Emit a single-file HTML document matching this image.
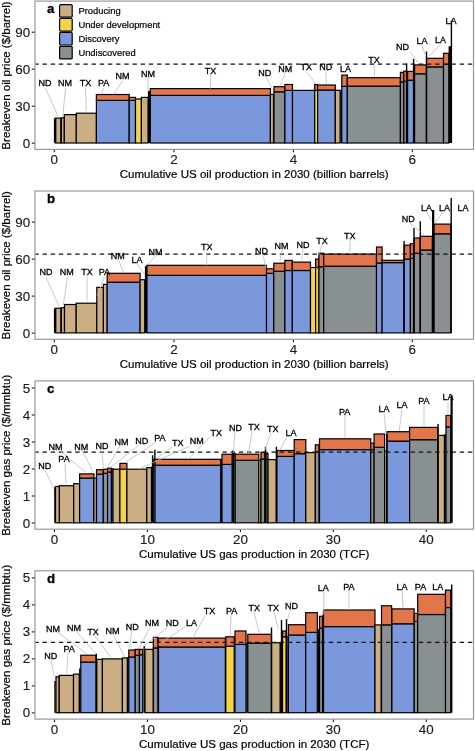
<!DOCTYPE html>
<html><head><meta charset="utf-8"><style>
html,body{margin:0;padding:0;background:#fff;width:475px;height:751px;overflow:hidden}
svg{position:absolute;left:0;top:0;font-family:"Liberation Sans", sans-serif;will-change:transform}
</style></head><body>
<svg width="475" height="751" viewBox="0 0 475 751">
<g transform="translate(0,0)">
<line x1="31.8" y1="143.2" x2="35" y2="143.2" stroke="#111" stroke-width="1.05"/>
<text x="30.2" y="147.75" text-anchor="end" font-size="13.4" fill="#1a1a1a" stroke="#1a1a1a" stroke-width="0.15">0</text>
<line x1="31.8" y1="106.2" x2="35" y2="106.2" stroke="#111" stroke-width="1.05"/>
<text x="30.2" y="110.75" text-anchor="end" font-size="13.4" fill="#1a1a1a" stroke="#1a1a1a" stroke-width="0.15">30</text>
<line x1="31.8" y1="69.2" x2="35" y2="69.2" stroke="#111" stroke-width="1.05"/>
<text x="30.2" y="73.75" text-anchor="end" font-size="13.4" fill="#1a1a1a" stroke="#1a1a1a" stroke-width="0.15">60</text>
<line x1="31.8" y1="32.2" x2="35" y2="32.2" stroke="#111" stroke-width="1.05"/>
<text x="30.2" y="36.75" text-anchor="end" font-size="13.4" fill="#1a1a1a" stroke="#1a1a1a" stroke-width="0.15">90</text>
<line x1="54.3" y1="149.5" x2="54.3" y2="152.3" stroke="#111" stroke-width="1.05"/>
<text x="54.3" y="164.3" text-anchor="middle" font-size="13.4" fill="#1a1a1a" stroke="#1a1a1a" stroke-width="0.15">0</text>
<line x1="174.0" y1="149.5" x2="174.0" y2="152.3" stroke="#111" stroke-width="1.05"/>
<text x="174.0" y="164.3" text-anchor="middle" font-size="13.4" fill="#1a1a1a" stroke="#1a1a1a" stroke-width="0.15">2</text>
<line x1="293.4" y1="149.5" x2="293.4" y2="152.3" stroke="#111" stroke-width="1.05"/>
<text x="293.4" y="164.3" text-anchor="middle" font-size="13.4" fill="#1a1a1a" stroke="#1a1a1a" stroke-width="0.15">4</text>
<line x1="412.3" y1="149.5" x2="412.3" y2="152.3" stroke="#111" stroke-width="1.05"/>
<text x="412.3" y="164.3" text-anchor="middle" font-size="13.4" fill="#1a1a1a" stroke="#1a1a1a" stroke-width="0.15">6</text>
<text x="254.2" y="178" text-anchor="middle" font-size="11.55" fill="#000" stroke="#000" stroke-width="0.2">Cumulative US oil production in 2030 (billion barrels)</text>
<text transform="translate(10.2,75.5) rotate(-90)" text-anchor="middle" font-size="11.55" fill="#000" stroke="#000" stroke-width="0.2">Breakeven oil price ($/barrel)</text>
<rect x="55.5" y="118.1" width="5.5" height="24.900000000000006" fill="#CBAE84" stroke="#000" stroke-width="1.2"/>
<rect x="61.3" y="117.8" width="3.0" height="25.200000000000003" fill="#CBAE84" stroke="#000" stroke-width="1.2"/>
<rect x="64.3" y="114.6" width="12.0" height="28.400000000000006" fill="#CBAE84" stroke="#000" stroke-width="1.2"/>
<rect x="76.3" y="113.2" width="20.10000000000001" height="29.799999999999997" fill="#CBAE84" stroke="#000" stroke-width="1.2"/>
<rect x="96.4" y="100.4" width="32.79999999999998" height="42.599999999999994" fill="#7B98DC" stroke="#000" stroke-width="1.2"/>
<rect x="96.4" y="94.5" width="32.79999999999998" height="5.900000000000006" fill="#E2754A" stroke="#000" stroke-width="1.2"/>
<rect x="129.2" y="100.4" width="6.300000000000011" height="42.599999999999994" fill="#7B98DC" stroke="#000" stroke-width="1.2"/>
<rect x="129.2" y="97.4" width="6.300000000000011" height="3.0" fill="#E2754A" stroke="#000" stroke-width="1.2"/>
<rect x="135.5" y="99.0" width="5.900000000000006" height="44.0" fill="#F3D34A" stroke="#000" stroke-width="1.2"/>
<rect x="141.4" y="97.4" width="6.699999999999989" height="45.599999999999994" fill="#CBAE84" stroke="#000" stroke-width="1.2"/>
<rect x="150.3" y="95.4" width="120.09999999999997" height="47.599999999999994" fill="#7B98DC" stroke="#000" stroke-width="1.2"/>
<rect x="150.3" y="88.6" width="120.09999999999997" height="6.800000000000011" fill="#E2754A" stroke="#000" stroke-width="1.2"/>
<rect x="270.4" y="94.4" width="3.1000000000000227" height="48.599999999999994" fill="#CBAE84" stroke="#000" stroke-width="1.2"/>
<rect x="274.0" y="91.8" width="10.899999999999977" height="51.2" fill="#899091" stroke="#000" stroke-width="1.2"/>
<rect x="274.0" y="86.7" width="10.899999999999977" height="5.099999999999994" fill="#E2754A" stroke="#000" stroke-width="1.2"/>
<rect x="284.9" y="90.4" width="7.600000000000023" height="52.599999999999994" fill="#7B98DC" stroke="#000" stroke-width="1.2"/>
<rect x="284.9" y="84.5" width="7.600000000000023" height="5.900000000000006" fill="#E2754A" stroke="#000" stroke-width="1.2"/>
<rect x="292.5" y="90.4" width="22.19999999999999" height="52.599999999999994" fill="#7B98DC" stroke="#000" stroke-width="1.2"/>
<rect x="314.7" y="90.4" width="2.900000000000034" height="52.599999999999994" fill="#F3D34A" stroke="#000" stroke-width="1.2"/>
<rect x="314.7" y="84.5" width="2.900000000000034" height="5.900000000000006" fill="#E2754A" stroke="#000" stroke-width="1.2"/>
<rect x="317.6" y="90.0" width="17.69999999999999" height="53.0" fill="#7B98DC" stroke="#000" stroke-width="1.2"/>
<rect x="317.6" y="85.0" width="17.69999999999999" height="5.0" fill="#E2754A" stroke="#000" stroke-width="1.2"/>
<rect x="335.3" y="90.3" width="4.800000000000011" height="52.7" fill="#CBAE84" stroke="#000" stroke-width="1.2"/>
<rect x="341.8" y="86.4" width="5.5" height="56.599999999999994" fill="#7B98DC" stroke="#000" stroke-width="1.2"/>
<rect x="341.8" y="75.1" width="5.5" height="11.300000000000011" fill="#E2754A" stroke="#000" stroke-width="1.2"/>
<rect x="347.3" y="86.1" width="53.099999999999966" height="56.900000000000006" fill="#899091" stroke="#000" stroke-width="1.2"/>
<rect x="347.3" y="77.7" width="53.099999999999966" height="8.399999999999991" fill="#E2754A" stroke="#000" stroke-width="1.2"/>
<rect x="400.4" y="82.0" width="3.400000000000034" height="61.0" fill="#899091" stroke="#000" stroke-width="1.2"/>
<rect x="400.4" y="72.4" width="3.400000000000034" height="9.599999999999994" fill="#E2754A" stroke="#000" stroke-width="1.2"/>
<rect x="403.8" y="81.4" width="2.8000000000000114" height="61.599999999999994" fill="#899091" stroke="#000" stroke-width="1.2"/>
<rect x="403.8" y="71.2" width="2.8000000000000114" height="10.200000000000003" fill="#E2754A" stroke="#000" stroke-width="1.2"/>
<rect x="407.6" y="80.2" width="6.0" height="62.8" fill="#7B98DC" stroke="#000" stroke-width="1.2"/>
<rect x="407.6" y="71.4" width="6.0" height="8.799999999999997" fill="#E2754A" stroke="#000" stroke-width="1.2"/>
<rect x="414.6" y="73.8" width="11.899999999999977" height="69.2" fill="#899091" stroke="#000" stroke-width="1.2"/>
<rect x="414.6" y="64.9" width="11.899999999999977" height="8.899999999999991" fill="#E2754A" stroke="#000" stroke-width="1.2"/>
<rect x="426.5" y="66.9" width="17.0" height="76.1" fill="#899091" stroke="#000" stroke-width="1.2"/>
<rect x="426.5" y="58.3" width="17.0" height="8.600000000000009" fill="#E2754A" stroke="#000" stroke-width="1.2"/>
<rect x="443.5" y="64.3" width="5.399999999999977" height="78.7" fill="#899091" stroke="#000" stroke-width="1.2"/>
<rect x="443.5" y="53.3" width="5.399999999999977" height="11.0" fill="#E2754A" stroke="#000" stroke-width="1.2"/>
<line x1="54.6" y1="118.2" x2="54.6" y2="143.0" stroke="#000" stroke-width="1.4"/>
<line x1="55.6" y1="118.2" x2="55.6" y2="143.0" stroke="#000" stroke-width="1.4"/>
<line x1="61.2" y1="118" x2="61.2" y2="143.0" stroke="#000" stroke-width="1.4"/>
<line x1="148.6" y1="91" x2="148.6" y2="143.0" stroke="#000" stroke-width="1.4"/>
<line x1="149.6" y1="91" x2="149.6" y2="143.0" stroke="#000" stroke-width="1.4"/>
<line x1="341" y1="90" x2="341" y2="143.0" stroke="#000" stroke-width="1.4"/>
<line x1="406.6" y1="63.4" x2="406.6" y2="143.0" stroke="#000" stroke-width="1.4"/>
<line x1="413.6" y1="58.9" x2="413.6" y2="143.0" stroke="#000" stroke-width="1.4"/>
<line x1="426.5" y1="51.5" x2="426.5" y2="143.0" stroke="#000" stroke-width="1.4"/>
<line x1="449.3" y1="46.3" x2="449.3" y2="143.0" stroke="#000" stroke-width="1.4"/>
<line x1="450.5" y1="46.3" x2="450.5" y2="143.0" stroke="#000" stroke-width="1.4"/>
<line x1="451.4" y1="20.5" x2="451.4" y2="143.0" stroke="#000" stroke-width="1.4"/>
<line x1="35.5" y1="64.2" x2="473" y2="64.2" stroke="#111" stroke-width="1.2" stroke-dasharray="4.4,3.78" stroke-dashoffset="1.18"/>
<line x1="45.4" y1="88" x2="57.7" y2="115.6" stroke="#bbb" stroke-width="0.8"/>
<text x="45.1" y="85.5" text-anchor="middle" font-size="9" fill="#000" stroke="#000" stroke-width="0.3">ND</text>
<line x1="65.6" y1="88" x2="62.8" y2="116" stroke="#bbb" stroke-width="0.8"/>
<text x="64.9" y="85.5" text-anchor="middle" font-size="9" fill="#000" stroke="#000" stroke-width="0.3">NM</text>
<line x1="85.5" y1="88" x2="86.3" y2="110.5" stroke="#bbb" stroke-width="0.8"/>
<text x="85.5" y="85.5" text-anchor="middle" font-size="9" fill="#000" stroke="#000" stroke-width="0.3">TX</text>
<line x1="104" y1="88" x2="100.7" y2="94.5" stroke="#bbb" stroke-width="0.8"/>
<text x="103.7" y="85.5" text-anchor="middle" font-size="9" fill="#000" stroke="#000" stroke-width="0.3">PA</text>
<line x1="122.8" y1="80.5" x2="113.6" y2="94.5" stroke="#bbb" stroke-width="0.8"/>
<text x="122.5" y="79.2" text-anchor="middle" font-size="9" fill="#000" stroke="#000" stroke-width="0.3">NM</text>
<line x1="148" y1="78.5" x2="148" y2="91" stroke="#bbb" stroke-width="0.8"/>
<text x="148.1" y="77.0" text-anchor="middle" font-size="9" fill="#000" stroke="#000" stroke-width="0.3">NM</text>
<line x1="210.5" y1="75" x2="210.5" y2="88.6" stroke="#bbb" stroke-width="0.8"/>
<text x="210.5" y="73.5" text-anchor="middle" font-size="9" fill="#000" stroke="#000" stroke-width="0.3">TX</text>
<line x1="266" y1="77.5" x2="272.6" y2="89.6" stroke="#bbb" stroke-width="0.8"/>
<text x="264.8" y="76.0" text-anchor="middle" font-size="9" fill="#000" stroke="#000" stroke-width="0.3">ND</text>
<line x1="285.5" y1="73" x2="279.9" y2="86.2" stroke="#bbb" stroke-width="0.8"/>
<text x="285.3" y="71.8" text-anchor="middle" font-size="9" fill="#000" stroke="#000" stroke-width="0.3">NM</text>
<line x1="306.3" y1="71.5" x2="315.6" y2="83.7" stroke="#bbb" stroke-width="0.8"/>
<text x="306.3" y="70.1" text-anchor="middle" font-size="9" fill="#000" stroke="#000" stroke-width="0.3">TX</text>
<line x1="325.7" y1="71.5" x2="326.5" y2="83.7" stroke="#bbb" stroke-width="0.8"/>
<text x="325.7" y="70.1" text-anchor="middle" font-size="9" fill="#000" stroke="#000" stroke-width="0.3">ND</text>
<text x="345.5" y="72.3" text-anchor="middle" font-size="9" fill="#000" stroke="#000" stroke-width="0.3">LA</text>
<line x1="374" y1="64.5" x2="374.5" y2="76.3" stroke="#bbb" stroke-width="0.8"/>
<text x="374.1" y="62.8" text-anchor="middle" font-size="9" fill="#000" stroke="#000" stroke-width="0.3">TX</text>
<line x1="410" y1="51.5" x2="419" y2="63.9" stroke="#bbb" stroke-width="0.8"/>
<text x="402.4" y="50.0" text-anchor="middle" font-size="9" fill="#000" stroke="#000" stroke-width="0.3">ND</text>
<line x1="422" y1="45.5" x2="425.3" y2="54.9" stroke="#bbb" stroke-width="0.8"/>
<text x="421.9" y="44.2" text-anchor="middle" font-size="9" fill="#000" stroke="#000" stroke-width="0.3">LA</text>
<line x1="440" y1="44.9" x2="429.3" y2="55.9" stroke="#bbb" stroke-width="0.8"/>
<text x="440.5" y="43.2" text-anchor="middle" font-size="9" fill="#000" stroke="#000" stroke-width="0.3">LA</text>
<text x="450.9" y="23.7" text-anchor="middle" font-size="9" fill="#000" stroke="#000" stroke-width="0.3">LA</text>
<rect x="35" y="1.1" width="438.5" height="148.3" fill="none" stroke="#949494" stroke-width="1.15"/>
<text x="46.9" y="13.4" font-size="13.3" font-weight="bold" fill="#000" stroke="#000" stroke-width="0.3">a</text>
</g>
<rect x="59.6" y="4.6" width="12.6" height="12.6" rx="1" fill="#CBAE84" stroke="#000" stroke-width="1.2"/>
<text x="78.4" y="14.4" font-size="9.4" fill="#000" stroke="#000" stroke-width="0.2">Producing</text>
<rect x="59.6" y="18.5" width="12.6" height="12.6" rx="1" fill="#F3D34A" stroke="#000" stroke-width="1.2"/>
<text x="78.4" y="28.3" font-size="9.4" fill="#000" stroke="#000" stroke-width="0.2">Under development</text>
<rect x="59.6" y="32.4" width="12.6" height="12.6" rx="1" fill="#7B98DC" stroke="#000" stroke-width="1.2"/>
<text x="78.4" y="42.2" font-size="9.4" fill="#000" stroke="#000" stroke-width="0.2">Discovery</text>
<rect x="59.6" y="46.300000000000004" width="12.6" height="12.6" rx="1" fill="#899091" stroke="#000" stroke-width="1.2"/>
<text x="78.4" y="56.10000000000001" font-size="9.4" fill="#000" stroke="#000" stroke-width="0.2">Undiscovered</text>
<g transform="translate(0,189.9)">
<line x1="31.8" y1="143.2" x2="35" y2="143.2" stroke="#111" stroke-width="1.05"/>
<text x="30.2" y="147.75" text-anchor="end" font-size="13.4" fill="#1a1a1a" stroke="#1a1a1a" stroke-width="0.15">0</text>
<line x1="31.8" y1="106.2" x2="35" y2="106.2" stroke="#111" stroke-width="1.05"/>
<text x="30.2" y="110.75" text-anchor="end" font-size="13.4" fill="#1a1a1a" stroke="#1a1a1a" stroke-width="0.15">30</text>
<line x1="31.8" y1="69.2" x2="35" y2="69.2" stroke="#111" stroke-width="1.05"/>
<text x="30.2" y="73.75" text-anchor="end" font-size="13.4" fill="#1a1a1a" stroke="#1a1a1a" stroke-width="0.15">60</text>
<line x1="31.8" y1="32.2" x2="35" y2="32.2" stroke="#111" stroke-width="1.05"/>
<text x="30.2" y="36.75" text-anchor="end" font-size="13.4" fill="#1a1a1a" stroke="#1a1a1a" stroke-width="0.15">90</text>
<line x1="54.3" y1="149.5" x2="54.3" y2="152.3" stroke="#111" stroke-width="1.05"/>
<text x="54.3" y="164.3" text-anchor="middle" font-size="13.4" fill="#1a1a1a" stroke="#1a1a1a" stroke-width="0.15">0</text>
<line x1="174.0" y1="149.5" x2="174.0" y2="152.3" stroke="#111" stroke-width="1.05"/>
<text x="174.0" y="164.3" text-anchor="middle" font-size="13.4" fill="#1a1a1a" stroke="#1a1a1a" stroke-width="0.15">2</text>
<line x1="293.4" y1="149.5" x2="293.4" y2="152.3" stroke="#111" stroke-width="1.05"/>
<text x="293.4" y="164.3" text-anchor="middle" font-size="13.4" fill="#1a1a1a" stroke="#1a1a1a" stroke-width="0.15">4</text>
<line x1="412.3" y1="149.5" x2="412.3" y2="152.3" stroke="#111" stroke-width="1.05"/>
<text x="412.3" y="164.3" text-anchor="middle" font-size="13.4" fill="#1a1a1a" stroke="#1a1a1a" stroke-width="0.15">6</text>
<text x="254.2" y="178" text-anchor="middle" font-size="11.55" fill="#000" stroke="#000" stroke-width="0.2">Cumulative US oil production in 2030 (billion barrels)</text>
<text transform="translate(10.2,75.5) rotate(-90)" text-anchor="middle" font-size="11.55" fill="#000" stroke="#000" stroke-width="0.2">Breakeven oil price ($/barrel)</text>
<rect x="55.5" y="118.3" width="5.600000000000001" height="24.700000000000003" fill="#CBAE84" stroke="#000" stroke-width="1.2"/>
<rect x="61.3" y="117.8" width="3.200000000000003" height="25.200000000000003" fill="#CBAE84" stroke="#000" stroke-width="1.2"/>
<rect x="64.5" y="114.6" width="11.700000000000003" height="28.400000000000006" fill="#CBAE84" stroke="#000" stroke-width="1.2"/>
<rect x="76.2" y="113.3" width="20.599999999999994" height="29.700000000000003" fill="#CBAE84" stroke="#000" stroke-width="1.2"/>
<rect x="96.8" y="97.5" width="6.6000000000000085" height="45.5" fill="#CBAE84" stroke="#000" stroke-width="1.2"/>
<rect x="103.4" y="94.5" width="3.799999999999997" height="48.5" fill="#CBAE84" stroke="#000" stroke-width="1.2"/>
<rect x="107.2" y="92.3" width="32.89999999999999" height="50.7" fill="#7B98DC" stroke="#000" stroke-width="1.2"/>
<rect x="107.2" y="83.4" width="32.89999999999999" height="8.899999999999991" fill="#E2754A" stroke="#000" stroke-width="1.2"/>
<rect x="140.1" y="89.8" width="4.599999999999994" height="53.2" fill="#CBAE84" stroke="#000" stroke-width="1.2"/>
<rect x="146.9" y="85.4" width="119.6" height="57.599999999999994" fill="#7B98DC" stroke="#000" stroke-width="1.2"/>
<rect x="146.9" y="75.4" width="119.6" height="10.0" fill="#E2754A" stroke="#000" stroke-width="1.2"/>
<rect x="266.5" y="83.4" width="7.300000000000011" height="59.599999999999994" fill="#7B98DC" stroke="#000" stroke-width="1.2"/>
<rect x="266.5" y="78.9" width="7.300000000000011" height="4.5" fill="#E2754A" stroke="#000" stroke-width="1.2"/>
<rect x="273.8" y="81.4" width="11.099999999999966" height="61.599999999999994" fill="#899091" stroke="#000" stroke-width="1.2"/>
<rect x="273.8" y="73.3" width="11.099999999999966" height="8.100000000000009" fill="#E2754A" stroke="#000" stroke-width="1.2"/>
<rect x="284.9" y="80.6" width="7.400000000000034" height="62.400000000000006" fill="#7B98DC" stroke="#000" stroke-width="1.2"/>
<rect x="284.9" y="70.5" width="7.400000000000034" height="10.099999999999994" fill="#E2754A" stroke="#000" stroke-width="1.2"/>
<rect x="292.3" y="80.6" width="18.19999999999999" height="62.400000000000006" fill="#7B98DC" stroke="#000" stroke-width="1.2"/>
<rect x="292.3" y="72.2" width="18.19999999999999" height="8.399999999999991" fill="#E2754A" stroke="#000" stroke-width="1.2"/>
<rect x="310.5" y="77.6" width="5.100000000000023" height="65.4" fill="#F3D34A" stroke="#000" stroke-width="1.2"/>
<rect x="315.6" y="77.6" width="3.2999999999999545" height="65.4" fill="#F3D34A" stroke="#000" stroke-width="1.2"/>
<rect x="315.6" y="69.2" width="3.2999999999999545" height="8.399999999999991" fill="#E2754A" stroke="#000" stroke-width="1.2"/>
<rect x="318.9" y="76.9" width="4.800000000000011" height="66.1" fill="#899091" stroke="#000" stroke-width="1.2"/>
<rect x="318.9" y="63.3" width="4.800000000000011" height="13.600000000000009" fill="#E2754A" stroke="#000" stroke-width="1.2"/>
<rect x="323.7" y="76.3" width="52.80000000000001" height="66.7" fill="#899091" stroke="#000" stroke-width="1.2"/>
<rect x="323.7" y="64.2" width="52.80000000000001" height="12.099999999999994" fill="#E2754A" stroke="#000" stroke-width="1.2"/>
<rect x="376.5" y="73.1" width="5.600000000000023" height="69.9" fill="#7B98DC" stroke="#000" stroke-width="1.2"/>
<rect x="376.5" y="57.1" width="5.600000000000023" height="15.999999999999993" fill="#E2754A" stroke="#000" stroke-width="1.2"/>
<rect x="382.1" y="72.7" width="22.0" height="70.3" fill="#7B98DC" stroke="#000" stroke-width="1.2"/>
<rect x="382.1" y="70.4" width="22.0" height="2.299999999999997" fill="#E2754A" stroke="#000" stroke-width="1.2"/>
<rect x="404.1" y="69.2" width="6.2999999999999545" height="73.8" fill="#7B98DC" stroke="#000" stroke-width="1.2"/>
<rect x="404.1" y="55.3" width="6.2999999999999545" height="13.900000000000006" fill="#E2754A" stroke="#000" stroke-width="1.2"/>
<rect x="410.4" y="68.5" width="3.1000000000000227" height="74.5" fill="#899091" stroke="#000" stroke-width="1.2"/>
<rect x="410.4" y="53.8" width="3.1000000000000227" height="14.700000000000003" fill="#E2754A" stroke="#000" stroke-width="1.2"/>
<rect x="414" y="63.3" width="6.300000000000011" height="79.7" fill="#899091" stroke="#000" stroke-width="1.2"/>
<rect x="414" y="48.1" width="6.300000000000011" height="15.199999999999996" fill="#E2754A" stroke="#000" stroke-width="1.2"/>
<rect x="420.3" y="60.1" width="12.0" height="82.9" fill="#899091" stroke="#000" stroke-width="1.2"/>
<rect x="420.3" y="46.4" width="12.0" height="13.700000000000003" fill="#E2754A" stroke="#000" stroke-width="1.2"/>
<rect x="434" y="43.9" width="16.80000000000001" height="99.1" fill="#899091" stroke="#000" stroke-width="1.2"/>
<rect x="434" y="34.2" width="16.80000000000001" height="9.699999999999996" fill="#E2754A" stroke="#000" stroke-width="1.2"/>
<line x1="54.6" y1="118.4" x2="54.6" y2="143.0" stroke="#000" stroke-width="1.4"/>
<line x1="55.6" y1="118.4" x2="55.6" y2="143.0" stroke="#000" stroke-width="1.4"/>
<line x1="61.2" y1="118.1" x2="61.2" y2="143.0" stroke="#000" stroke-width="1.4"/>
<line x1="145.6" y1="76.3" x2="145.6" y2="143.0" stroke="#000" stroke-width="1.4"/>
<line x1="146.4" y1="76.3" x2="146.4" y2="143.0" stroke="#000" stroke-width="1.4"/>
<line x1="404.1" y1="51.1" x2="404.1" y2="143.0" stroke="#000" stroke-width="1.4"/>
<line x1="414" y1="38.0" x2="414" y2="143.0" stroke="#000" stroke-width="1.4"/>
<line x1="420.3" y1="31.3" x2="420.3" y2="143.0" stroke="#000" stroke-width="1.4"/>
<line x1="432.7" y1="20.1" x2="432.7" y2="143.0" stroke="#000" stroke-width="1.4"/>
<line x1="433.6" y1="20.1" x2="433.6" y2="143.0" stroke="#000" stroke-width="1.4"/>
<line x1="451.2" y1="8.1" x2="451.2" y2="143.0" stroke="#000" stroke-width="1.4"/>
<line x1="35.5" y1="64.3" x2="473" y2="64.3" stroke="#111" stroke-width="1.2" stroke-dasharray="4.4,3.78" stroke-dashoffset="1.18"/>
<line x1="46" y1="87.1" x2="58.6" y2="115.8" stroke="#bbb" stroke-width="0.8"/>
<text x="45.9" y="85.4" text-anchor="middle" font-size="9" fill="#000" stroke="#000" stroke-width="0.3">ND</text>
<line x1="67.5" y1="87.1" x2="63.3" y2="115.1" stroke="#bbb" stroke-width="0.8"/>
<text x="66.7" y="85.4" text-anchor="middle" font-size="9" fill="#000" stroke="#000" stroke-width="0.3">NM</text>
<line x1="87" y1="87.1" x2="87" y2="110.7" stroke="#bbb" stroke-width="0.8"/>
<text x="86.9" y="85.4" text-anchor="middle" font-size="9" fill="#000" stroke="#000" stroke-width="0.3">TX</text>
<line x1="104.5" y1="87.1" x2="97.3" y2="105.7" stroke="#bbb" stroke-width="0.8"/>
<text x="104.3" y="85.5" text-anchor="middle" font-size="9" fill="#000" stroke="#000" stroke-width="0.3">PA</text>
<line x1="118" y1="69.1" x2="123.6" y2="83.1" stroke="#bbb" stroke-width="0.8"/>
<text x="117.7" y="68.7" text-anchor="middle" font-size="9" fill="#000" stroke="#000" stroke-width="0.3">NM</text>
<line x1="137.1" y1="74.1" x2="144.7" y2="84.7" stroke="#bbb" stroke-width="0.8"/>
<text x="137.1" y="72.9" text-anchor="middle" font-size="9" fill="#000" stroke="#000" stroke-width="0.3">LA</text>
<line x1="155.6" y1="66.1" x2="146.4" y2="75.5" stroke="#bbb" stroke-width="0.8"/>
<text x="155.6" y="65.0" text-anchor="middle" font-size="9" fill="#000" stroke="#000" stroke-width="0.3">NM</text>
<line x1="206.7" y1="62.1" x2="206.7" y2="75.5" stroke="#bbb" stroke-width="0.8"/>
<text x="206.7" y="60.6" text-anchor="middle" font-size="9" fill="#000" stroke="#000" stroke-width="0.3">TX</text>
<line x1="263" y1="65.1" x2="266.1" y2="78.1" stroke="#bbb" stroke-width="0.8"/>
<text x="261.6" y="64.1" text-anchor="middle" font-size="9" fill="#000" stroke="#000" stroke-width="0.3">ND</text>
<line x1="282" y1="60.1" x2="279.9" y2="70.5" stroke="#bbb" stroke-width="0.8"/>
<text x="281.6" y="58.7" text-anchor="middle" font-size="9" fill="#000" stroke="#000" stroke-width="0.3">NM</text>
<line x1="303" y1="59.1" x2="301.8" y2="70.5" stroke="#bbb" stroke-width="0.8"/>
<text x="302.9" y="57.8" text-anchor="middle" font-size="9" fill="#000" stroke="#000" stroke-width="0.3">ND</text>
<line x1="322" y1="55.1" x2="318.9" y2="64.6" stroke="#bbb" stroke-width="0.8"/>
<text x="322" y="53.9" text-anchor="middle" font-size="9" fill="#000" stroke="#000" stroke-width="0.3">TX</text>
<line x1="350" y1="50.1" x2="350" y2="64.1" stroke="#bbb" stroke-width="0.8"/>
<text x="349.8" y="49.2" text-anchor="middle" font-size="9" fill="#000" stroke="#000" stroke-width="0.3">TX</text>
<line x1="410" y1="33.1" x2="424.5" y2="45.4" stroke="#bbb" stroke-width="0.8"/>
<text x="408.3" y="31.8" text-anchor="middle" font-size="9" fill="#000" stroke="#000" stroke-width="0.3">ND</text>
<line x1="427" y1="22.1" x2="431.4" y2="30.6" stroke="#bbb" stroke-width="0.8"/>
<text x="426.6" y="20.7" text-anchor="middle" font-size="9" fill="#000" stroke="#000" stroke-width="0.3">LA</text>
<line x1="443" y1="22.1" x2="435" y2="32.7" stroke="#bbb" stroke-width="0.8"/>
<text x="444.5" y="20.7" text-anchor="middle" font-size="9" fill="#000" stroke="#000" stroke-width="0.3">LA</text>
<text x="463" y="20.7" text-anchor="middle" font-size="9" fill="#000" stroke="#000" stroke-width="0.3">LA</text>
<rect x="35" y="1.1" width="438.5" height="148.3" fill="none" stroke="#949494" stroke-width="1.15"/>
<text x="46.9" y="13.4" font-size="13.3" font-weight="bold" fill="#000" stroke="#000" stroke-width="0.3">b</text>
</g>
<g transform="translate(0,379.8)">
<line x1="31.8" y1="143.2" x2="35" y2="143.2" stroke="#111" stroke-width="1.05"/>
<text x="30.2" y="147.75" text-anchor="end" font-size="13.4" fill="#1a1a1a" stroke="#1a1a1a" stroke-width="0.15">0</text>
<line x1="31.8" y1="116.2" x2="35" y2="116.2" stroke="#111" stroke-width="1.05"/>
<text x="30.2" y="120.75" text-anchor="end" font-size="13.4" fill="#1a1a1a" stroke="#1a1a1a" stroke-width="0.15">1</text>
<line x1="31.8" y1="89.2" x2="35" y2="89.2" stroke="#111" stroke-width="1.05"/>
<text x="30.2" y="93.75" text-anchor="end" font-size="13.4" fill="#1a1a1a" stroke="#1a1a1a" stroke-width="0.15">2</text>
<line x1="31.8" y1="62.2" x2="35" y2="62.2" stroke="#111" stroke-width="1.05"/>
<text x="30.2" y="66.75" text-anchor="end" font-size="13.4" fill="#1a1a1a" stroke="#1a1a1a" stroke-width="0.15">3</text>
<line x1="31.8" y1="35.2" x2="35" y2="35.2" stroke="#111" stroke-width="1.05"/>
<text x="30.2" y="39.75" text-anchor="end" font-size="13.4" fill="#1a1a1a" stroke="#1a1a1a" stroke-width="0.15">4</text>
<line x1="31.8" y1="8.2" x2="35" y2="8.2" stroke="#111" stroke-width="1.05"/>
<text x="30.2" y="12.75" text-anchor="end" font-size="13.4" fill="#1a1a1a" stroke="#1a1a1a" stroke-width="0.15">5</text>
<line x1="54.4" y1="149.5" x2="54.4" y2="152.3" stroke="#111" stroke-width="1.05"/>
<text x="54.4" y="164.3" text-anchor="middle" font-size="13.4" fill="#1a1a1a" stroke="#1a1a1a" stroke-width="0.15">0</text>
<line x1="147.4" y1="149.5" x2="147.4" y2="152.3" stroke="#111" stroke-width="1.05"/>
<text x="147.4" y="164.3" text-anchor="middle" font-size="13.4" fill="#1a1a1a" stroke="#1a1a1a" stroke-width="0.15">10</text>
<line x1="240.4" y1="149.5" x2="240.4" y2="152.3" stroke="#111" stroke-width="1.05"/>
<text x="240.4" y="164.3" text-anchor="middle" font-size="13.4" fill="#1a1a1a" stroke="#1a1a1a" stroke-width="0.15">20</text>
<line x1="333.3" y1="149.5" x2="333.3" y2="152.3" stroke="#111" stroke-width="1.05"/>
<text x="333.3" y="164.3" text-anchor="middle" font-size="13.4" fill="#1a1a1a" stroke="#1a1a1a" stroke-width="0.15">30</text>
<line x1="426.3" y1="149.5" x2="426.3" y2="152.3" stroke="#111" stroke-width="1.05"/>
<text x="426.3" y="164.3" text-anchor="middle" font-size="13.4" fill="#1a1a1a" stroke="#1a1a1a" stroke-width="0.15">40</text>
<text x="254.2" y="178" text-anchor="middle" font-size="11.55" fill="#000" stroke="#000" stroke-width="0.2">Cumulative US gas production in 2030 (TCF)</text>
<text transform="translate(10.2,75.5) rotate(-90)" text-anchor="middle" font-size="11.55" fill="#000" stroke="#000" stroke-width="0.2">Breakeven gas price ($/mmbtu)</text>
<rect x="55.5" y="106.7" width="3.8999999999999986" height="36.3" fill="#CBAE84" stroke="#000" stroke-width="1.2"/>
<rect x="59.4" y="105.9" width="14.300000000000004" height="37.099999999999994" fill="#CBAE84" stroke="#000" stroke-width="1.2"/>
<rect x="73.7" y="103.9" width="5.8999999999999915" height="39.099999999999994" fill="#CBAE84" stroke="#000" stroke-width="1.2"/>
<rect x="79.6" y="98.3" width="14.300000000000011" height="44.7" fill="#7B98DC" stroke="#000" stroke-width="1.2"/>
<rect x="79.6" y="94.1" width="14.300000000000011" height="4.200000000000003" fill="#E2754A" stroke="#000" stroke-width="1.2"/>
<rect x="93.9" y="98.3" width="2.5999999999999943" height="44.7" fill="#CBAE84" stroke="#000" stroke-width="1.2"/>
<rect x="96.5" y="94.4" width="6.799999999999997" height="48.599999999999994" fill="#7B98DC" stroke="#000" stroke-width="1.2"/>
<rect x="96.5" y="89.9" width="6.799999999999997" height="4.5" fill="#E2754A" stroke="#000" stroke-width="1.2"/>
<rect x="103.3" y="93.5" width="4.299999999999997" height="49.5" fill="#899091" stroke="#000" stroke-width="1.2"/>
<rect x="103.3" y="89.4" width="4.299999999999997" height="4.099999999999994" fill="#E2754A" stroke="#000" stroke-width="1.2"/>
<rect x="107.6" y="92.2" width="3.8000000000000114" height="50.8" fill="#7B98DC" stroke="#000" stroke-width="1.2"/>
<rect x="107.6" y="88.4" width="3.8000000000000114" height="3.799999999999997" fill="#E2754A" stroke="#000" stroke-width="1.2"/>
<rect x="111.4" y="89.0" width="1.5999999999999943" height="54.0" fill="#7B98DC" stroke="#000" stroke-width="1.2"/>
<rect x="113" y="89.4" width="6.900000000000006" height="53.599999999999994" fill="#CBAE84" stroke="#000" stroke-width="1.2"/>
<rect x="119.9" y="89.4" width="7.0" height="53.599999999999994" fill="#F3D34A" stroke="#000" stroke-width="1.2"/>
<rect x="119.9" y="83.6" width="7.0" height="5.800000000000011" fill="#E2754A" stroke="#000" stroke-width="1.2"/>
<rect x="126.9" y="89.4" width="19.900000000000006" height="53.599999999999994" fill="#CBAE84" stroke="#000" stroke-width="1.2"/>
<rect x="146.8" y="87.9" width="4.599999999999994" height="55.099999999999994" fill="#CBAE84" stroke="#000" stroke-width="1.2"/>
<rect x="153.2" y="85.4" width="67.5" height="57.599999999999994" fill="#7B98DC" stroke="#000" stroke-width="1.2"/>
<rect x="153.2" y="79.5" width="67.5" height="5.900000000000006" fill="#E2754A" stroke="#000" stroke-width="1.2"/>
<rect x="222" y="84.6" width="10.099999999999994" height="58.400000000000006" fill="#7B98DC" stroke="#000" stroke-width="1.2"/>
<rect x="222" y="74.5" width="10.099999999999994" height="10.099999999999994" fill="#E2754A" stroke="#000" stroke-width="1.2"/>
<rect x="233.5" y="80.5" width="1.6999999999999886" height="62.5" fill="#899091" stroke="#000" stroke-width="1.2"/>
<rect x="233.5" y="73.8" width="1.6999999999999886" height="6.700000000000003" fill="#E2754A" stroke="#000" stroke-width="1.2"/>
<rect x="235.2" y="80.5" width="23.600000000000023" height="62.5" fill="#899091" stroke="#000" stroke-width="1.2"/>
<rect x="235.2" y="74.4" width="23.600000000000023" height="6.099999999999994" fill="#E2754A" stroke="#000" stroke-width="1.2"/>
<rect x="258.8" y="80.5" width="2.1999999999999886" height="62.5" fill="#F3D34A" stroke="#000" stroke-width="1.2"/>
<rect x="261.0" y="79.2" width="3.6999999999999886" height="63.8" fill="#899091" stroke="#000" stroke-width="1.2"/>
<rect x="261.0" y="72.4" width="3.6999999999999886" height="6.799999999999997" fill="#E2754A" stroke="#000" stroke-width="1.2"/>
<rect x="265.9" y="79.2" width="2.1000000000000227" height="63.8" fill="#899091" stroke="#000" stroke-width="1.2"/>
<rect x="265.9" y="73.8" width="2.1000000000000227" height="5.400000000000006" fill="#E2754A" stroke="#000" stroke-width="1.2"/>
<rect x="268" y="79.8" width="8.300000000000011" height="63.2" fill="#CBAE84" stroke="#000" stroke-width="1.2"/>
<rect x="276.9" y="76.6" width="17.30000000000001" height="66.4" fill="#7B98DC" stroke="#000" stroke-width="1.2"/>
<rect x="276.9" y="70.7" width="17.30000000000001" height="5.8999999999999915" fill="#E2754A" stroke="#000" stroke-width="1.2"/>
<rect x="294.2" y="73.9" width="11.600000000000023" height="69.1" fill="#7B98DC" stroke="#000" stroke-width="1.2"/>
<rect x="294.2" y="59.8" width="11.600000000000023" height="14.100000000000009" fill="#E2754A" stroke="#000" stroke-width="1.2"/>
<rect x="305.8" y="72.8" width="9.5" height="70.2" fill="#CBAE84" stroke="#000" stroke-width="1.2"/>
<rect x="315.3" y="72.2" width="3.6999999999999886" height="70.8" fill="#899091" stroke="#000" stroke-width="1.2"/>
<rect x="315.3" y="65.0" width="3.6999999999999886" height="7.200000000000003" fill="#E2754A" stroke="#000" stroke-width="1.2"/>
<rect x="319.5" y="69.8" width="51.19999999999999" height="73.2" fill="#7B98DC" stroke="#000" stroke-width="1.2"/>
<rect x="319.5" y="59.0" width="51.19999999999999" height="10.799999999999997" fill="#E2754A" stroke="#000" stroke-width="1.2"/>
<rect x="370.7" y="69.8" width="3.400000000000034" height="73.2" fill="#899091" stroke="#000" stroke-width="1.2"/>
<rect x="370.7" y="63.3" width="3.400000000000034" height="6.5" fill="#E2754A" stroke="#000" stroke-width="1.2"/>
<rect x="374.1" y="67.5" width="10.5" height="75.5" fill="#899091" stroke="#000" stroke-width="1.2"/>
<rect x="374.1" y="54.2" width="10.5" height="13.299999999999997" fill="#E2754A" stroke="#000" stroke-width="1.2"/>
<rect x="384.6" y="71.2" width="2.2999999999999545" height="71.8" fill="#CBAE84" stroke="#000" stroke-width="1.2"/>
<rect x="386.9" y="61.3" width="22.700000000000045" height="81.7" fill="#7B98DC" stroke="#000" stroke-width="1.2"/>
<rect x="386.9" y="51.9" width="22.700000000000045" height="9.399999999999999" fill="#E2754A" stroke="#000" stroke-width="1.2"/>
<rect x="409.6" y="59.9" width="28.399999999999977" height="83.1" fill="#899091" stroke="#000" stroke-width="1.2"/>
<rect x="409.6" y="47.6" width="28.399999999999977" height="12.299999999999997" fill="#E2754A" stroke="#000" stroke-width="1.2"/>
<rect x="438" y="55.6" width="6.5" height="87.4" fill="#CBAE84" stroke="#000" stroke-width="1.2"/>
<rect x="444.5" y="55.2" width="1.5" height="87.8" fill="#899091" stroke="#000" stroke-width="1.2"/>
<rect x="446" y="47.1" width="4.800000000000011" height="95.9" fill="#899091" stroke="#000" stroke-width="1.2"/>
<rect x="446" y="35.7" width="4.800000000000011" height="11.399999999999999" fill="#E2754A" stroke="#000" stroke-width="1.2"/>
<line x1="54.9" y1="107.2" x2="54.9" y2="143.0" stroke="#000" stroke-width="1.4"/>
<line x1="151.8" y1="86.7" x2="151.8" y2="143.0" stroke="#000" stroke-width="1.4"/>
<line x1="152.6" y1="75.4" x2="152.6" y2="143.0" stroke="#000" stroke-width="1.4"/>
<line x1="154.9" y1="70.0" x2="154.9" y2="143.0" stroke="#000" stroke-width="1.4"/>
<line x1="221.3" y1="79.2" x2="221.3" y2="143.0" stroke="#000" stroke-width="1.4"/>
<line x1="232.9" y1="70.7" x2="232.9" y2="143.0" stroke="#000" stroke-width="1.4"/>
<line x1="265.5" y1="67.0" x2="265.5" y2="143.0" stroke="#000" stroke-width="1.4"/>
<line x1="276.4" y1="67.0" x2="276.4" y2="143.0" stroke="#000" stroke-width="1.4"/>
<line x1="386.9" y1="54.2" x2="386.9" y2="143.0" stroke="#000" stroke-width="1.4"/>
<line x1="438" y1="44.2" x2="438" y2="143.0" stroke="#000" stroke-width="1.4"/>
<line x1="451.2" y1="15.8" x2="451.2" y2="143.0" stroke="#000" stroke-width="1.4"/>
<line x1="452" y1="15.8" x2="452" y2="143.0" stroke="#000" stroke-width="1.4"/>
<line x1="35.5" y1="72.4" x2="473" y2="72.4" stroke="#111" stroke-width="1.2" stroke-dasharray="4.4,3.78" stroke-dashoffset="1.18"/>
<line x1="45" y1="90.2" x2="53.9" y2="109.2" stroke="#bbb" stroke-width="0.8"/>
<text x="44.8" y="89.0" text-anchor="middle" font-size="9" fill="#000" stroke="#000" stroke-width="0.3">ND</text>
<line x1="60" y1="71.2" x2="85.5" y2="92.4" stroke="#bbb" stroke-width="0.8"/>
<text x="55.5" y="70.5" text-anchor="middle" font-size="9" fill="#000" stroke="#000" stroke-width="0.3">NM</text>
<line x1="65" y1="83.7" x2="66.1" y2="104.2" stroke="#bbb" stroke-width="0.8"/>
<text x="64" y="82.5" text-anchor="middle" font-size="9" fill="#000" stroke="#000" stroke-width="0.3">PA</text>
<line x1="82" y1="71.2" x2="93.1" y2="91.6" stroke="#bbb" stroke-width="0.8"/>
<text x="81.3" y="70.1" text-anchor="middle" font-size="9" fill="#000" stroke="#000" stroke-width="0.3">NM</text>
<line x1="102" y1="70.2" x2="103.2" y2="88.2" stroke="#bbb" stroke-width="0.8"/>
<text x="102" y="68.8" text-anchor="middle" font-size="9" fill="#000" stroke="#000" stroke-width="0.3">ND</text>
<line x1="120" y1="66.2" x2="107.1" y2="88.2" stroke="#bbb" stroke-width="0.8"/>
<text x="121.6" y="65.4" text-anchor="middle" font-size="9" fill="#000" stroke="#000" stroke-width="0.3">NM</text>
<line x1="139" y1="65.2" x2="110.4" y2="87.7" stroke="#bbb" stroke-width="0.8"/>
<text x="141.8" y="64.5" text-anchor="middle" font-size="9" fill="#000" stroke="#000" stroke-width="0.3">ND</text>
<line x1="156" y1="62.2" x2="126.1" y2="82.3" stroke="#bbb" stroke-width="0.8"/>
<text x="159.8" y="61.2" text-anchor="middle" font-size="9" fill="#000" stroke="#000" stroke-width="0.3">PA</text>
<line x1="172" y1="67.2" x2="155.6" y2="79.2" stroke="#bbb" stroke-width="0.8"/>
<text x="177.8" y="65.9" text-anchor="middle" font-size="9" fill="#000" stroke="#000" stroke-width="0.3">TX</text>
<line x1="190" y1="66.2" x2="138.7" y2="89.2" stroke="#bbb" stroke-width="0.8"/>
<text x="196.7" y="64.7" text-anchor="middle" font-size="9" fill="#000" stroke="#000" stroke-width="0.3">NM</text>
<line x1="210" y1="57.2" x2="187.9" y2="79.6" stroke="#bbb" stroke-width="0.8"/>
<text x="216.2" y="55.8" text-anchor="middle" font-size="9" fill="#000" stroke="#000" stroke-width="0.3">TX</text>
<line x1="235" y1="52.2" x2="233.4" y2="73.2" stroke="#bbb" stroke-width="0.8"/>
<text x="235.4" y="51.3" text-anchor="middle" font-size="9" fill="#000" stroke="#000" stroke-width="0.3">ND</text>
<line x1="252" y1="51.2" x2="248.5" y2="73.2" stroke="#bbb" stroke-width="0.8"/>
<text x="254.1" y="50.0" text-anchor="middle" font-size="9" fill="#000" stroke="#000" stroke-width="0.3">TX</text>
<line x1="271" y1="53.2" x2="264.7" y2="70.7" stroke="#bbb" stroke-width="0.8"/>
<text x="272.7" y="51.9" text-anchor="middle" font-size="9" fill="#000" stroke="#000" stroke-width="0.3">TX</text>
<line x1="287" y1="57.2" x2="279.5" y2="70.7" stroke="#bbb" stroke-width="0.8"/>
<text x="291.1" y="56.1" text-anchor="middle" font-size="9" fill="#000" stroke="#000" stroke-width="0.3">LA</text>
<line x1="345" y1="36.2" x2="345" y2="58.1" stroke="#bbb" stroke-width="0.8"/>
<text x="344.7" y="35.1" text-anchor="middle" font-size="9" fill="#000" stroke="#000" stroke-width="0.3">PA</text>
<line x1="384" y1="33.2" x2="386" y2="54.2" stroke="#bbb" stroke-width="0.8"/>
<text x="384" y="31.9" text-anchor="middle" font-size="9" fill="#000" stroke="#000" stroke-width="0.3">LA</text>
<line x1="402" y1="30.2" x2="399.1" y2="51.3" stroke="#bbb" stroke-width="0.8"/>
<text x="402" y="28.5" text-anchor="middle" font-size="9" fill="#000" stroke="#000" stroke-width="0.3">LA</text>
<line x1="424" y1="25.2" x2="424" y2="47.1" stroke="#bbb" stroke-width="0.8"/>
<text x="423.8" y="24.0" text-anchor="middle" font-size="9" fill="#000" stroke="#000" stroke-width="0.3">PA</text>
<line x1="448" y1="22.2" x2="448" y2="35.7" stroke="#bbb" stroke-width="0.8"/>
<text x="448" y="20.5" text-anchor="middle" font-size="9" fill="#000" stroke="#000" stroke-width="0.3">LA</text>
<rect x="35" y="1.1" width="438.5" height="148.3" fill="none" stroke="#949494" stroke-width="1.15"/>
<text x="46.9" y="13.4" font-size="13.3" font-weight="bold" fill="#000" stroke="#000" stroke-width="0.3">c</text>
</g>
<g transform="translate(0,569.7)">
<line x1="31.8" y1="143.2" x2="35" y2="143.2" stroke="#111" stroke-width="1.05"/>
<text x="30.2" y="147.75" text-anchor="end" font-size="13.4" fill="#1a1a1a" stroke="#1a1a1a" stroke-width="0.15">0</text>
<line x1="31.8" y1="116.2" x2="35" y2="116.2" stroke="#111" stroke-width="1.05"/>
<text x="30.2" y="120.75" text-anchor="end" font-size="13.4" fill="#1a1a1a" stroke="#1a1a1a" stroke-width="0.15">1</text>
<line x1="31.8" y1="89.2" x2="35" y2="89.2" stroke="#111" stroke-width="1.05"/>
<text x="30.2" y="93.75" text-anchor="end" font-size="13.4" fill="#1a1a1a" stroke="#1a1a1a" stroke-width="0.15">2</text>
<line x1="31.8" y1="62.2" x2="35" y2="62.2" stroke="#111" stroke-width="1.05"/>
<text x="30.2" y="66.75" text-anchor="end" font-size="13.4" fill="#1a1a1a" stroke="#1a1a1a" stroke-width="0.15">3</text>
<line x1="31.8" y1="35.2" x2="35" y2="35.2" stroke="#111" stroke-width="1.05"/>
<text x="30.2" y="39.75" text-anchor="end" font-size="13.4" fill="#1a1a1a" stroke="#1a1a1a" stroke-width="0.15">4</text>
<line x1="31.8" y1="8.2" x2="35" y2="8.2" stroke="#111" stroke-width="1.05"/>
<text x="30.2" y="12.75" text-anchor="end" font-size="13.4" fill="#1a1a1a" stroke="#1a1a1a" stroke-width="0.15">5</text>
<line x1="54.4" y1="149.5" x2="54.4" y2="152.3" stroke="#111" stroke-width="1.05"/>
<text x="54.4" y="164.3" text-anchor="middle" font-size="13.4" fill="#1a1a1a" stroke="#1a1a1a" stroke-width="0.15">0</text>
<line x1="147.4" y1="149.5" x2="147.4" y2="152.3" stroke="#111" stroke-width="1.05"/>
<text x="147.4" y="164.3" text-anchor="middle" font-size="13.4" fill="#1a1a1a" stroke="#1a1a1a" stroke-width="0.15">10</text>
<line x1="240.4" y1="149.5" x2="240.4" y2="152.3" stroke="#111" stroke-width="1.05"/>
<text x="240.4" y="164.3" text-anchor="middle" font-size="13.4" fill="#1a1a1a" stroke="#1a1a1a" stroke-width="0.15">20</text>
<line x1="333.3" y1="149.5" x2="333.3" y2="152.3" stroke="#111" stroke-width="1.05"/>
<text x="333.3" y="164.3" text-anchor="middle" font-size="13.4" fill="#1a1a1a" stroke="#1a1a1a" stroke-width="0.15">30</text>
<line x1="426.3" y1="149.5" x2="426.3" y2="152.3" stroke="#111" stroke-width="1.05"/>
<text x="426.3" y="164.3" text-anchor="middle" font-size="13.4" fill="#1a1a1a" stroke="#1a1a1a" stroke-width="0.15">40</text>
<text x="254.2" y="178" text-anchor="middle" font-size="11.55" fill="#000" stroke="#000" stroke-width="0.2">Cumulative US gas production in 2030 (TCF)</text>
<text transform="translate(10.2,75.5) rotate(-90)" text-anchor="middle" font-size="11.55" fill="#000" stroke="#000" stroke-width="0.2">Breakeven gas price ($/mmbtu)</text>
<rect x="56" y="107.1" width="3.200000000000003" height="35.900000000000006" fill="#CBAE84" stroke="#000" stroke-width="1.2"/>
<rect x="59.2" y="105.7" width="14.299999999999997" height="37.3" fill="#CBAE84" stroke="#000" stroke-width="1.2"/>
<rect x="73.5" y="104.4" width="5.700000000000003" height="38.599999999999994" fill="#CBAE84" stroke="#000" stroke-width="1.2"/>
<rect x="80.8" y="92.4" width="15.299999999999997" height="50.599999999999994" fill="#7B98DC" stroke="#000" stroke-width="1.2"/>
<rect x="80.8" y="85.5" width="15.299999999999997" height="6.900000000000006" fill="#E2754A" stroke="#000" stroke-width="1.2"/>
<rect x="96.8" y="89.7" width="5.6000000000000085" height="53.3" fill="#CBAE84" stroke="#000" stroke-width="1.2"/>
<rect x="102.4" y="89.2" width="20.0" height="53.8" fill="#CBAE84" stroke="#000" stroke-width="1.2"/>
<rect x="122.4" y="88.2" width="4.8999999999999915" height="54.8" fill="#CBAE84" stroke="#000" stroke-width="1.2"/>
<rect x="128.8" y="87.3" width="6.399999999999977" height="55.7" fill="#7B98DC" stroke="#000" stroke-width="1.2"/>
<rect x="128.8" y="80.3" width="6.399999999999977" height="7.0" fill="#E2754A" stroke="#000" stroke-width="1.2"/>
<rect x="135.2" y="85.6" width="4.200000000000017" height="57.400000000000006" fill="#899091" stroke="#000" stroke-width="1.2"/>
<rect x="135.2" y="79.7" width="4.200000000000017" height="5.8999999999999915" fill="#E2754A" stroke="#000" stroke-width="1.2"/>
<rect x="139.4" y="85.1" width="3.299999999999983" height="57.900000000000006" fill="#7B98DC" stroke="#000" stroke-width="1.2"/>
<rect x="139.4" y="79.7" width="3.299999999999983" height="5.3999999999999915" fill="#E2754A" stroke="#000" stroke-width="1.2"/>
<rect x="145" y="79.7" width="8.300000000000011" height="63.3" fill="#CBAE84" stroke="#000" stroke-width="1.2"/>
<rect x="153.3" y="78.2" width="4.599999999999994" height="64.8" fill="#899091" stroke="#000" stroke-width="1.2"/>
<rect x="153.3" y="67.7" width="4.599999999999994" height="10.5" fill="#E2754A" stroke="#000" stroke-width="1.2"/>
<rect x="158.5" y="77.3" width="66.80000000000001" height="65.7" fill="#7B98DC" stroke="#000" stroke-width="1.2"/>
<rect x="158.5" y="68.4" width="66.80000000000001" height="8.899999999999991" fill="#E2754A" stroke="#000" stroke-width="1.2"/>
<rect x="225.8" y="76.5" width="8.399999999999977" height="66.5" fill="#F3D34A" stroke="#000" stroke-width="1.2"/>
<rect x="225.8" y="67.1" width="8.399999999999977" height="9.400000000000006" fill="#E2754A" stroke="#000" stroke-width="1.2"/>
<rect x="235.0" y="74.7" width="11.0" height="68.3" fill="#7B98DC" stroke="#000" stroke-width="1.2"/>
<rect x="235.0" y="61.3" width="11.0" height="13.400000000000006" fill="#E2754A" stroke="#000" stroke-width="1.2"/>
<rect x="247.8" y="73.5" width="23.69999999999999" height="69.5" fill="#899091" stroke="#000" stroke-width="1.2"/>
<rect x="247.8" y="64.6" width="23.69999999999999" height="8.900000000000006" fill="#E2754A" stroke="#000" stroke-width="1.2"/>
<rect x="271.5" y="73.0" width="8.800000000000011" height="70.0" fill="#CBAE84" stroke="#000" stroke-width="1.2"/>
<rect x="280.3" y="73.0" width="2.1999999999999886" height="70.0" fill="#F3D34A" stroke="#000" stroke-width="1.2"/>
<rect x="282.5" y="67.1" width="3.6999999999999886" height="75.9" fill="#F3D34A" stroke="#000" stroke-width="1.2"/>
<rect x="282.5" y="61.3" width="3.6999999999999886" height="5.799999999999997" fill="#E2754A" stroke="#000" stroke-width="1.2"/>
<rect x="286.8" y="67.1" width="1.599999999999966" height="75.9" fill="#CBAE84" stroke="#000" stroke-width="1.2"/>
<rect x="288.4" y="65.3" width="17.30000000000001" height="77.7" fill="#7B98DC" stroke="#000" stroke-width="1.2"/>
<rect x="288.4" y="55.0" width="17.30000000000001" height="10.299999999999997" fill="#E2754A" stroke="#000" stroke-width="1.2"/>
<rect x="305.7" y="62.7" width="11.600000000000023" height="80.3" fill="#7B98DC" stroke="#000" stroke-width="1.2"/>
<rect x="305.7" y="43.0" width="11.600000000000023" height="19.700000000000003" fill="#E2754A" stroke="#000" stroke-width="1.2"/>
<rect x="319.5" y="58.4" width="3.0" height="84.6" fill="#899091" stroke="#000" stroke-width="1.2"/>
<rect x="319.5" y="46.6" width="3.0" height="11.799999999999997" fill="#E2754A" stroke="#000" stroke-width="1.2"/>
<rect x="323.5" y="56.9" width="51.5" height="86.1" fill="#7B98DC" stroke="#000" stroke-width="1.2"/>
<rect x="323.5" y="40.3" width="51.5" height="16.6" fill="#E2754A" stroke="#000" stroke-width="1.2"/>
<rect x="375" y="55.2" width="6.199999999999989" height="87.8" fill="#CBAE84" stroke="#000" stroke-width="1.2"/>
<rect x="381.5" y="55.2" width="10.100000000000023" height="87.8" fill="#899091" stroke="#000" stroke-width="1.2"/>
<rect x="381.5" y="36.1" width="10.100000000000023" height="19.1" fill="#E2754A" stroke="#000" stroke-width="1.2"/>
<rect x="391.9" y="54.1" width="22.30000000000001" height="88.9" fill="#7B98DC" stroke="#000" stroke-width="1.2"/>
<rect x="391.9" y="39.2" width="22.30000000000001" height="14.899999999999999" fill="#E2754A" stroke="#000" stroke-width="1.2"/>
<rect x="414.2" y="51.7" width="3.5" height="91.3" fill="#899091" stroke="#000" stroke-width="1.2"/>
<rect x="414.2" y="43.7" width="3.5" height="8.0" fill="#E2754A" stroke="#000" stroke-width="1.2"/>
<rect x="417.7" y="44.8" width="27.80000000000001" height="98.2" fill="#899091" stroke="#000" stroke-width="1.2"/>
<rect x="417.7" y="24.6" width="27.80000000000001" height="20.199999999999996" fill="#E2754A" stroke="#000" stroke-width="1.2"/>
<rect x="445.5" y="37.8" width="5.199999999999989" height="105.2" fill="#899091" stroke="#000" stroke-width="1.2"/>
<rect x="445.5" y="20.4" width="5.199999999999989" height="17.4" fill="#E2754A" stroke="#000" stroke-width="1.2"/>
<line x1="55" y1="111.3" x2="55" y2="143.0" stroke="#000" stroke-width="1.4"/>
<line x1="79.8" y1="98.7" x2="79.8" y2="143.0" stroke="#000" stroke-width="1.4"/>
<line x1="96.3" y1="84.0" x2="96.3" y2="143.0" stroke="#000" stroke-width="1.4"/>
<line x1="128" y1="87.3" x2="128" y2="143.0" stroke="#000" stroke-width="1.4"/>
<line x1="144.2" y1="76.1" x2="144.2" y2="143.0" stroke="#000" stroke-width="1.4"/>
<line x1="247" y1="73.3" x2="247" y2="143.0" stroke="#000" stroke-width="1.4"/>
<line x1="271.5" y1="57.8" x2="271.5" y2="143.0" stroke="#000" stroke-width="1.4"/>
<line x1="281.5" y1="50.3" x2="281.5" y2="143.0" stroke="#000" stroke-width="1.4"/>
<line x1="286.5" y1="49.4" x2="286.5" y2="143.0" stroke="#000" stroke-width="1.4"/>
<line x1="318.4" y1="59.3" x2="318.4" y2="143.0" stroke="#000" stroke-width="1.4"/>
<line x1="323.2" y1="44.8" x2="323.2" y2="143.0" stroke="#000" stroke-width="1.4"/>
<line x1="451.7" y1="14.9" x2="451.7" y2="143.0" stroke="#000" stroke-width="1.4"/>
<line x1="35.5" y1="72.6" x2="473" y2="72.6" stroke="#111" stroke-width="1.2" stroke-dasharray="4.4,3.78" stroke-dashoffset="1.18"/>
<line x1="51" y1="90.3" x2="54.4" y2="107.1" stroke="#bbb" stroke-width="0.8"/>
<text x="50.8" y="89.4" text-anchor="middle" font-size="9" fill="#000" stroke="#000" stroke-width="0.3">ND</text>
<line x1="68" y1="83.3" x2="66.6" y2="105.0" stroke="#bbb" stroke-width="0.8"/>
<text x="69.1" y="82.4" text-anchor="middle" font-size="9" fill="#000" stroke="#000" stroke-width="0.3">PA</text>
<line x1="58" y1="62.8" x2="86.6" y2="84.0" stroke="#bbb" stroke-width="0.8"/>
<text x="52.9" y="62.0" text-anchor="middle" font-size="9" fill="#000" stroke="#000" stroke-width="0.3">NM</text>
<line x1="77" y1="62.3" x2="96.1" y2="84.0" stroke="#bbb" stroke-width="0.8"/>
<text x="73.9" y="61.0" text-anchor="middle" font-size="9" fill="#000" stroke="#000" stroke-width="0.3">NM</text>
<line x1="95" y1="66.8" x2="110.8" y2="87.6" stroke="#bbb" stroke-width="0.8"/>
<text x="92.9" y="65.6" text-anchor="middle" font-size="9" fill="#000" stroke="#000" stroke-width="0.3">TX</text>
<line x1="114" y1="66.3" x2="124.5" y2="87.1" stroke="#bbb" stroke-width="0.8"/>
<text x="112.5" y="64.8" text-anchor="middle" font-size="9" fill="#000" stroke="#000" stroke-width="0.3">NM</text>
<line x1="131.5" y1="61.3" x2="129.5" y2="80.3" stroke="#bbb" stroke-width="0.8"/>
<text x="132.3" y="59.9" text-anchor="middle" font-size="9" fill="#000" stroke="#000" stroke-width="0.3">ND</text>
<line x1="150" y1="57.3" x2="139" y2="79.3" stroke="#bbb" stroke-width="0.8"/>
<text x="152" y="56.2" text-anchor="middle" font-size="9" fill="#000" stroke="#000" stroke-width="0.3">NM</text>
<line x1="168" y1="57.3" x2="144.2" y2="76.1" stroke="#bbb" stroke-width="0.8"/>
<text x="172.2" y="56.2" text-anchor="middle" font-size="9" fill="#000" stroke="#000" stroke-width="0.3">ND</text>
<line x1="185" y1="57.3" x2="157.9" y2="75.0" stroke="#bbb" stroke-width="0.8"/>
<text x="191.6" y="56.2" text-anchor="middle" font-size="9" fill="#000" stroke="#000" stroke-width="0.3">LA</text>
<line x1="205" y1="46.3" x2="192.6" y2="68.3" stroke="#bbb" stroke-width="0.8"/>
<text x="209.5" y="44.6" text-anchor="middle" font-size="9" fill="#000" stroke="#000" stroke-width="0.3">TX</text>
<line x1="231" y1="45.3" x2="230.3" y2="65.9" stroke="#bbb" stroke-width="0.8"/>
<text x="231.6" y="44.4" text-anchor="middle" font-size="9" fill="#000" stroke="#000" stroke-width="0.3">PA</text>
<line x1="254" y1="42.3" x2="259.4" y2="63.3" stroke="#bbb" stroke-width="0.8"/>
<text x="254.3" y="41.4" text-anchor="middle" font-size="9" fill="#000" stroke="#000" stroke-width="0.3">TX</text>
<line x1="274" y1="42.3" x2="278.3" y2="59.6" stroke="#bbb" stroke-width="0.8"/>
<text x="273.3" y="41.4" text-anchor="middle" font-size="9" fill="#000" stroke="#000" stroke-width="0.3">TX</text>
<line x1="290" y1="40.3" x2="287.2" y2="51.3" stroke="#bbb" stroke-width="0.8"/>
<text x="291.5" y="38.9" text-anchor="middle" font-size="9" fill="#000" stroke="#000" stroke-width="0.3">ND</text>
<line x1="323.8" y1="22.3" x2="323.8" y2="44.8" stroke="#bbb" stroke-width="0.8"/>
<text x="323.2" y="21.0" text-anchor="middle" font-size="9" fill="#000" stroke="#000" stroke-width="0.3">LA</text>
<line x1="349" y1="21.3" x2="349" y2="40.3" stroke="#bbb" stroke-width="0.8"/>
<text x="348.9" y="20.3" text-anchor="middle" font-size="9" fill="#000" stroke="#000" stroke-width="0.3">PA</text>
<line x1="402" y1="21.3" x2="403.1" y2="38.5" stroke="#bbb" stroke-width="0.8"/>
<text x="402" y="20.3" text-anchor="middle" font-size="9" fill="#000" stroke="#000" stroke-width="0.3">LA</text>
<text x="420.5" y="20.3" text-anchor="middle" font-size="9" fill="#000" stroke="#000" stroke-width="0.3">PA</text>
<text x="437.8" y="20.3" text-anchor="middle" font-size="9" fill="#000" stroke="#000" stroke-width="0.3">LA</text>
<rect x="35" y="1.1" width="438.5" height="148.3" fill="none" stroke="#949494" stroke-width="1.15"/>
<text x="46.9" y="13.4" font-size="13.3" font-weight="bold" fill="#000" stroke="#000" stroke-width="0.3">d</text>
</g>
</svg>
</body></html>
